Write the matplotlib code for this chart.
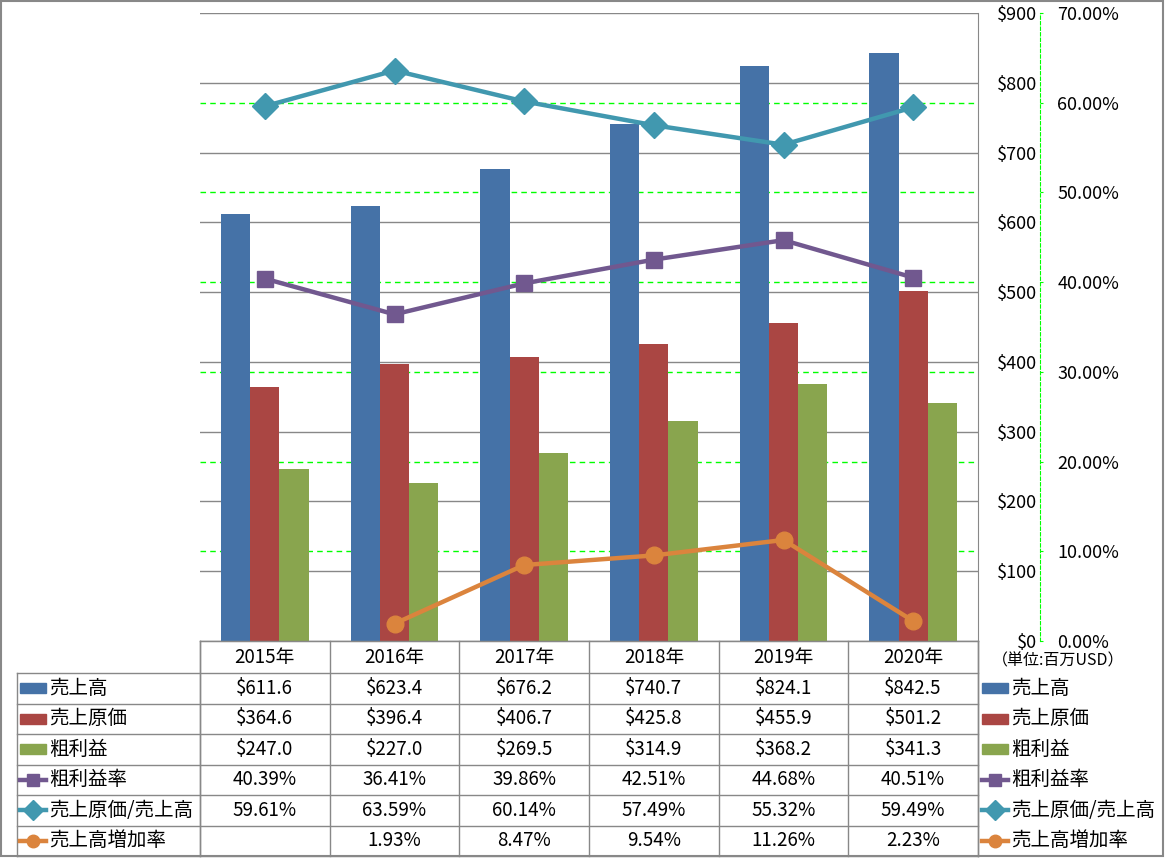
import matplotlib

matplotlib.use("Agg")
import matplotlib.pyplot as plt
import numpy as np
from matplotlib.patches import Rectangle
from matplotlib.ticker import FuncFormatter, MultipleLocator
from matplotlib.transforms import blended_transform_factory

plt.rcParams["font.family"] = ["Noto Sans CJK JP", "DejaVu Sans"]

years = ["2015年", "2016年", "2017年", "2018年", "2019年", "2020年"]
sales = [611.6, 623.4, 676.2, 740.7, 824.1, 842.5]
cogs = [364.6, 396.4, 406.7, 425.8, 455.9, 501.2]
gross = [247.0, 227.0, 269.5, 314.9, 368.2, 341.3]
gross_margin = [40.39, 36.41, 39.86, 42.51, 44.68, 40.51]
cogs_ratio = [59.61, 63.59, 60.14, 57.49, 55.32, 59.49]
sales_growth = [np.nan, 1.93, 8.47, 9.54, 11.26, 2.23]

bar_names = ["売上高", "売上原価", "粗利益"]
line_names = ["粗利益率", "売上原価/売上高", "売上高増加率"]
unit_label = "（単位:百万USD）"

BAR_COLORS = ["#4572A7", "#AA4643", "#89A54E"]
LINE_COLORS = ["#71588F", "#4198AF", "#DB843D"]
MARKERS = ["s", "D", "o"]
MSIZES = [12, 13, 12]
GRID = "#888888"
GREEN = "#00FF00"

W, H = 1165, 858
fig = plt.figure(figsize=(W / 100, H / 100), dpi=100)


def box(x0, y0, x1, y1):
    return [x0 / W, 1 - y1 / H, (x1 - x0) / W, (y1 - y0) / H]


PL, PT, PR, PB = 200, 13, 978, 641
ax = fig.add_axes(box(PL, PT, PR, PB))
x = np.arange(len(years))
bw = 0.225
for i, (vals, color) in enumerate(zip([sales, cogs, gross], BAR_COLORS)):
    ax.bar(x + (i - 1) * bw, vals, bw, color=color, zorder=2)
ax.set_xlim(-0.5, len(years) - 0.5)
ax.set_ylim(0, 900)
ax.set_xticks([])
ax.yaxis.set_major_locator(MultipleLocator(100))
ax.yaxis.set_major_formatter(FuncFormatter(lambda v, _: f"${v:.0f}"))
ax.grid(axis="y", color=GRID, lw=1)
ax.set_axisbelow(True)
for side in ("left", "top"):
    ax.spines[side].set_visible(False)
for side in ("right", "bottom"):
    ax.spines[side].set_color(GRID)

# secondary (percent) axis
ax2 = ax.twinx()
ax2.set_ylim(0, 70)
ax2.yaxis.set_major_locator(MultipleLocator(10))
ax2.yaxis.set_major_formatter(FuncFormatter(lambda v, _: f"{v:.2f}%"))
for side in ("left", "top", "bottom"):
    ax2.spines[side].set_visible(False)
ax2.spines["right"].set_position(("outward", (1040 - PR) * 0.72))
ax2.spines["right"].set_color(GREEN)
ax2.spines["right"].set_linestyle((0, (3, 2)))
ax2.tick_params(axis="y", color=GREEN, length=2.5, pad=10, labelsize=13)

# primary labels sit right of the plot, right-aligned
ax.yaxis.tick_right()
ax.tick_params(axis="y", left=False, right=False, labelleft=False,
               labelright=True, length=0, pad=(1037 - PR) * 0.72, labelsize=13)
plt.setp(ax.yaxis.get_majorticklabels(), ha="right")

# percent gridlines drawn under the bars
trans = blended_transform_factory(ax.transAxes, ax2.transData)
for t in range(10, 70, 10):
    ax.plot([0, 1], [t, t], transform=trans, color=GREEN, lw=1,
            ls=(0, (4, 3)), zorder=0.8)

for vals, color, mk, ms in zip([gross_margin, cogs_ratio, sales_growth],
                               LINE_COLORS, MARKERS, MSIZES):
    ax2.plot(x, vals, color=color, lw=3.2, marker=mk, ms=ms, zorder=3)

# data table + legends
ov = fig.add_axes([0, 0, 1, 1])
ov.set_xlim(0, W)
ov.set_ylim(H, 0)
ov.axis("off")

col_w = (PR - PL) / len(years)
row_top, row_h = 673, (856 - 673) / 6
lc = dict(color=GRID, lw=1)
ov.plot([PL, PR], [PB, PB], **lc)
ov.plot([PL, PL], [PB, 856], **lc)
ov.plot([17, 17], [row_top, 856], **lc)
ov.plot([PR, PR], [PB, 856], **lc)
for j in range(len(years) + 1):
    ov.plot([PL + j * col_w] * 2, [PB, 856], **lc)
for r in range(7):
    ov.plot([17, PR], [row_top + r * row_h] * 2, **lc)
ov.add_patch(Rectangle((1, 1), W - 3, 855, fill=False, ec=GRID, lw=1.5))

for j, yr in enumerate(years):
    ov.text(PL + (j + 0.5) * col_w, (PB + row_top) / 2, yr, ha="center",
            va="center", fontsize=13.5)
ov.text(992, 661, unit_label, ha="left", va="center", fontsize=11.5)

rows = [[f"${v:.1f}" for v in sales],
        [f"${v:.1f}" for v in cogs],
        [f"${v:.1f}" for v in gross],
        [f"{v:.2f}%" for v in gross_margin],
        [f"{v:.2f}%" for v in cogs_ratio],
        ["" if np.isnan(v) else f"{v:.2f}%" for v in sales_growth]]
names = bar_names + line_names


def key(x0, yc, r):
    if r < 3:
        ov.add_patch(Rectangle((x0, yc - 5), 26, 10, color=BAR_COLORS[r]))
    else:
        k = r - 3
        ov.plot([x0, x0 + 26], [yc, yc], color=LINE_COLORS[k], lw=3.2)
        ov.plot(x0 + 13, yc, marker=MARKERS[k], ms=MSIZES[k] * 0.75,
                color=LINE_COLORS[k])


for r, (name, cells) in enumerate(zip(names, rows)):
    yc = row_top + (r + 0.5) * row_h
    key(20, yc, r)
    ov.text(49, yc, name, ha="left", va="center", fontsize=14)
    key(982, yc, r)
    ov.text(1011, yc, name, ha="left", va="center", fontsize=14)
    for j, cell in enumerate(cells):
        ov.text(PL + (j + 0.5) * col_w, yc, cell, ha="center", va="center",
                fontsize=13.5)

fig.savefig("out.png", dpi=100)
